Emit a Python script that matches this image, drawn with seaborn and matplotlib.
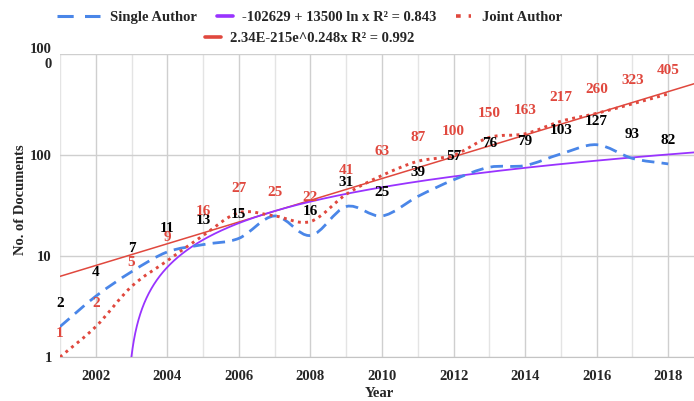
import numpy as np
import matplotlib
matplotlib.use("Agg")
import matplotlib.pyplot as plt
import seaborn as sns
from matplotlib.path import Path
from matplotlib.patches import PathPatch
from matplotlib.lines import Line2D

years = [2001, 2002, 2003, 2004, 2005, 2006, 2007, 2008, 2009,
         2010, 2011, 2012, 2013, 2014, 2015, 2016, 2017, 2018]
single_author = [2, 4, 7, 11, 13, 15, 25, 16, 31, 25, 39, 57, 76, 79, 103, 127, 93, 82]
joint_author = [1, 2, 5, 9, 16, 27, 25, 22, 41, 63, 87, 100, 150, 163, 217, 260, 323, 405]

# exponential trendline: rate from the legend, level at 2001
exp_rate = 0.248
exp_at_2001 = 6.3

y_ticks = [1, 10, 100, 1000]
y_tick_labels = ["1", "10", "100", "100\n0"]
x_ticks = [2002, 2004, 2006, 2008, 2010, 2012, 2014, 2016, 2018]

BLUE = "#4a86e8"
RED = "#e0483e"
PURPLE = "#9933ff"


def smooth_path(xs, ys):
    # cubic bezier through the points, smooth in log-y (screen) space
    x = np.asarray(xs, float)
    ly = np.log10(np.asarray(ys, float))
    n = len(x)
    tx = np.empty(n)
    ty = np.empty(n)
    for i in range(n):
        a = max(i - 1, 0)
        b = min(i + 1, n - 1)
        tx[i] = (x[b] - x[a]) / (b - a)
        ty[i] = (ly[b] - ly[a]) / (b - a)
    verts = [(x[0], 10 ** ly[0])]
    codes = [Path.MOVETO]
    for i in range(n - 1):
        verts.append((x[i] + tx[i] / 3, 10 ** (ly[i] + ty[i] / 3)))
        verts.append((x[i + 1] - tx[i + 1] / 3, 10 ** (ly[i + 1] - ty[i + 1] / 3)))
        verts.append((x[i + 1], 10 ** ly[i + 1]))
        codes += [Path.CURVE4] * 3
    return Path(verts, codes)


sns.set_style("white")
plt.rcParams["font.family"] = ["Liberation Serif", "DejaVu Serif"]
plt.rcParams["font.weight"] = "bold"

fig = plt.figure(figsize=(6.94, 4.01), dpi=100)
ax = fig.add_axes([60 / 694, 44 / 401, 634 / 694, 302.7 / 401])

x_arr = np.array(years, float)
x_max = 2018.72
grid_x = np.linspace(2001, x_max, 4000)

exp_trend = exp_at_2001 * np.exp(exp_rate * (grid_x - 2001))
b_log, a_log = np.polyfit(np.log(x_arr), single_author, 1)
log_trend = a_log + b_log * np.log(grid_x)
keep = log_trend > 0

sns.lineplot(x=grid_x, y=exp_trend, color=RED, lw=1.1, estimator=None, ax=ax, zorder=3)
sns.lineplot(x=grid_x[keep], y=log_trend[keep], color=PURPLE, lw=1.3, estimator=None, ax=ax, zorder=3)

ax.add_patch(PathPatch(smooth_path(years, single_author), fill=False, edgecolor=BLUE,
                       lw=2.0, linestyle=(0, (4.5, 2.6)), zorder=4))
ax.add_patch(PathPatch(smooth_path(years, joint_author), fill=False, edgecolor=RED,
                       lw=2.1, linestyle=(0, (1, 1.5)), zorder=4))

for x, v, j in zip(years, single_author, joint_author):
    if v == j:
        continue  # hidden under the joint-author label in the original
    ax.annotate(str(v), (x, v), xytext=(0, 17), textcoords="offset points",
                ha="center", va="center", fontsize=11, color="black",
                fontweight="bold", annotation_clip=False, zorder=5)
for x, v in zip(years, joint_author):
    ax.annotate(str(v), (x, v), xytext=(0, 17), textcoords="offset points",
                ha="center", va="center", fontsize=11, color=RED,
                fontweight="bold", annotation_clip=False, zorder=6)

ax.set_yscale("log")
ax.set_xlim(2001, x_max)
ax.set_ylim(1, 1000)
ax.set_yticks(y_ticks)
ax.set_yticklabels(y_tick_labels)
ax.yaxis.set_minor_locator(matplotlib.ticker.NullLocator())
ax.set_xticks(x_ticks)
ax.set_xticks([y for y in years if y % 2 == 1], minor=True)
ax.grid(True, which="major", color="#cfcfcf", lw=1.0)
ax.grid(True, which="minor", axis="x", color="#e4e4e4", lw=1.0)
ax.tick_params(axis="both", which="both", length=0, labelsize=10.5)
ax.tick_params(axis="x", pad=9)
ax.tick_params(axis="y", pad=6)
for lab in ax.get_xticklabels() + ax.get_yticklabels():
    lab.set_fontweight("bold")
for side in ["top", "right", "left"]:
    ax.spines[side].set_visible(False)
ax.spines["bottom"].set_color("#c4c4c4")

ax.set_xlabel("Year", fontsize=10.5, fontweight="bold")
ax.set_ylabel("No. of Documents", fontsize=10.5, fontweight="bold")
ax.xaxis.set_label_coords(0.503, -0.099)
ax.yaxis.set_label_coords(-0.052, 0.519)

# legend entries, placed one by one like the spreadsheet legend
legend_font = {"family": "Liberation Serif", "weight": "bold", "size": 10.5}
entries = [
    (Line2D([], [], color=BLUE, lw=2.2, linestyle=(0, (5.3, 3.7))), "Single Author", 57, 17, 2.95, 0.7),
    (Line2D([], [], color=PURPLE, lw=2.6), "-102629 + 13500 ln x R² = 0.843", 217, 17, 1.1, 0.6),
    (Line2D([], [], color=RED, lw=2.6, linestyle=(0, (1.3, 2.2))), "Joint Author", 456, 17, 1.05, 0.75),
    (Line2D([], [], color=RED, lw=2.6), "2.34E-215e^0.248x R² = 0.992", 205, 38, 1.1, 0.6),
]
for handle, text, px, py, hl, hp in entries:
    fig.legend([handle], [text], loc="center left",
               bbox_to_anchor=(px / 694, 1 - py / 401), frameon=False,
               borderpad=0, borderaxespad=0, handlelength=hl, handletextpad=hp,
               prop=legend_font)

fig.savefig("out.png", dpi=100)
